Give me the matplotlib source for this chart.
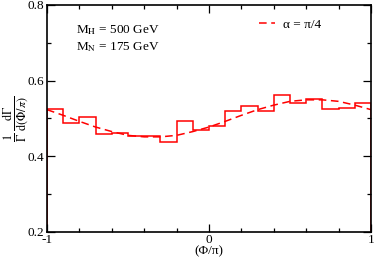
"""Azimuthal-angle distribution, histogram vs. analytic curve (alpha = pi/4)."""
import numpy as np
import matplotlib
matplotlib.use("Agg")
import matplotlib.pyplot as plt
from matplotlib.ticker import MultipleLocator

plt.rcParams["font.family"] = ["Liberation Serif", "DejaVu Serif"]
plt.rcParams["mathtext.fontset"] = "stix"
plt.rcParams["axes.unicode_minus"] = False

# histogram: 20 bins over Phi/pi in [-1, 1]
bin_edges = [-1.0, -0.9, -0.8, -0.7, -0.6, -0.5, -0.4, -0.3, -0.2, -0.1, 0.0,
             0.1, 0.2, 0.3, 0.4, 0.5, 0.6, 0.7, 0.8, 0.9, 1.0]
hist_vals = [0.524, 0.487, 0.503, 0.459, 0.461, 0.452, 0.453, 0.437, 0.492, 0.468,
             0.480, 0.519, 0.533, 0.519, 0.562, 0.541, 0.551, 0.524, 0.528, 0.541]

# dashed curve, read at every 0.1
curve_x = [-1.0, -0.9, -0.8, -0.7, -0.6, -0.5, -0.4, -0.3, -0.2, -0.1, 0.0,
           0.1, 0.2, 0.3, 0.4, 0.5, 0.6, 0.7, 0.8, 0.9, 1.0]
curve_y = [0.523, 0.508, 0.492, 0.477, 0.465, 0.455, 0.451, 0.451, 0.455, 0.465, 0.477,
           0.492, 0.508, 0.523, 0.535, 0.545, 0.549, 0.549, 0.545, 0.535, 0.523]

FS = 9.5

fig = plt.figure(figsize=(3.74, 2.59), dpi=100)
ax = fig.add_axes([0.1257, 0.1054, 0.8663, 0.8753])

ax.stairs(hist_vals, bin_edges, color="red", lw=1.1)
ax.plot(np.array(curve_x), curve_y, color="red", lw=1.1, dashes=(5, 3),
        label="α = π/4")

ax.set_xlim(-1, 1)
ax.set_ylim(0.2, 0.8)
ax.xaxis.set_minor_locator(MultipleLocator(0.2))
ax.yaxis.set_major_locator(MultipleLocator(0.2))
ax.yaxis.set_minor_locator(MultipleLocator(0.1))
ax.set_xticks([-1, 0, 1], ["-1", "0", "1"])
ax.tick_params(which="both", direction="in", top=True, right=True,
               labelsize=FS, width=0.9, pad=2)
ax.tick_params(which="major", length=6)
ax.tick_params(which="minor", length=3)
for s in ax.spines.values():
    s.set_linewidth(1.2)

ax.set_xlabel("(Φ/π)", fontsize=FS, labelpad=-1)
ax.set_ylabel(r"$\frac{1}{\Gamma}\,\frac{\mathrm{d}\Gamma}{\mathrm{d}(\Phi/\pi)}$",
              fontsize=12.5)
ax.yaxis.set_label_coords(-0.05, 0.5)

ax.text(0.0895, 0.876, r"M$_\mathrm{H}$ = 500 GeV", transform=ax.transAxes,
        fontsize=FS, va="baseline")
ax.text(0.0895, 0.801, r"M$_\mathrm{N}$ = 175 GeV", transform=ax.transAxes,
        fontsize=FS, va="baseline")

ax.legend(loc="center left", bbox_to_anchor=(0.655, 0.912), frameon=False,
          fontsize=FS, handlelength=1.2, handletextpad=0.6,
          borderpad=0, borderaxespad=0)

fig.savefig("out.png", dpi=100)
